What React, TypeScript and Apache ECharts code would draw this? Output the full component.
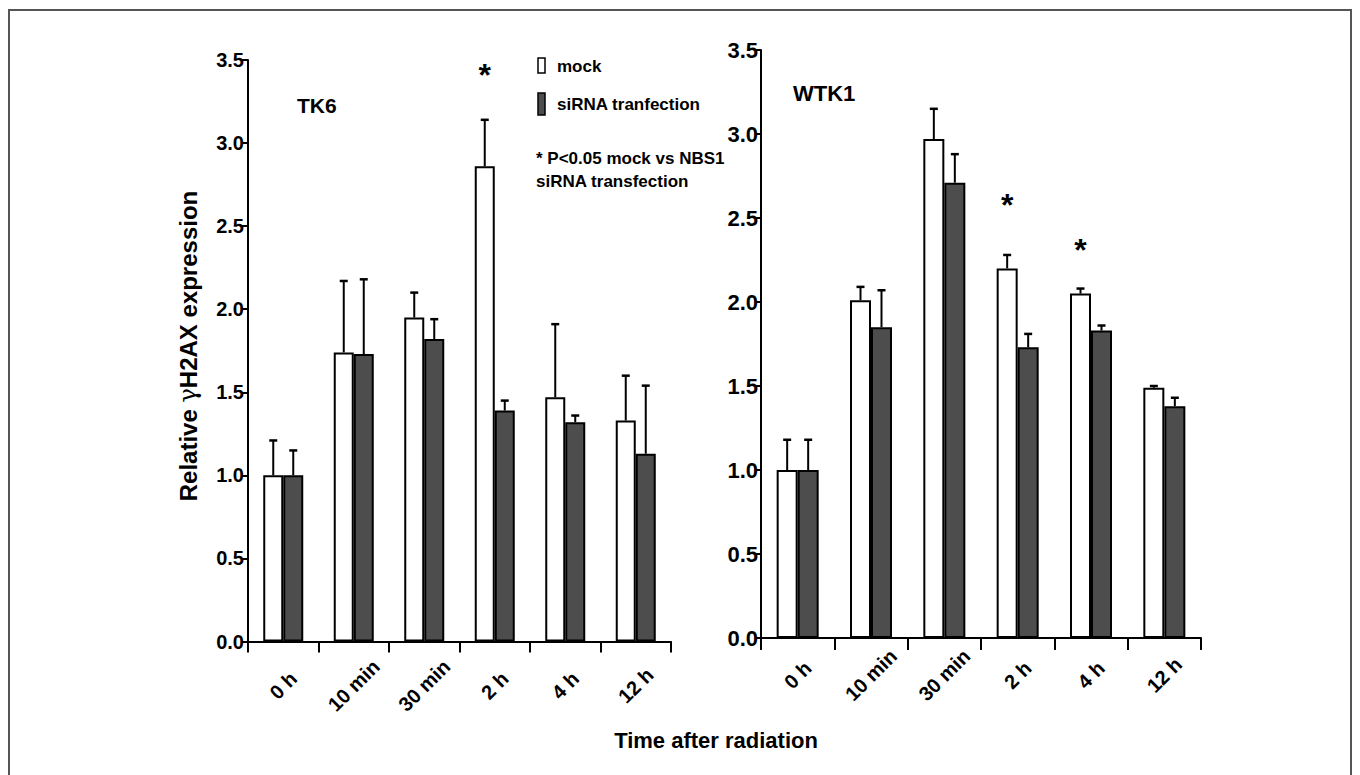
import React, { useEffect, useRef } from "react";
import * as echarts from "echarts";

const categories = ["0 h", "10 min", "30 min", "2 h", "4 h", "12 h"];

const tk6Mock = [1.0, 1.74, 1.95, 2.86, 1.47, 1.33];
const tk6MockErr = [1.21, 2.17, 2.1, 3.14, 1.91, 1.6];
const tk6Si = [1.0, 1.73, 1.82, 1.39, 1.32, 1.13];
const tk6SiErr = [1.15, 2.18, 1.94, 1.45, 1.36, 1.54];

const wtk1Mock = [1.0, 2.01, 2.97, 2.2, 2.05, 1.49];
const wtk1MockErr = [1.18, 2.09, 3.15, 2.28, 2.08, 1.5];
const wtk1Si = [1.0, 1.85, 2.71, 1.73, 1.83, 1.38];
const wtk1SiErr = [1.18, 2.07, 2.88, 1.81, 1.86, 1.43];

const tk6Stars: [string, number][] = [["2 h", 3.41]];
const wtk1Stars: [string, number][] = [["2 h", 2.575], ["4 h", 2.307]];

const FONT = "'Liberation Sans', Arial, Helvetica, sans-serif";
const DARK = "#4d4d4d";

function yAxisCfg(gridIndex: number, fontSize: number, margin: number) {
  return {
    type: "value",
    gridIndex,
    min: 0,
    max: 3.5,
    interval: 0.5,
    axisLine: { show: true, lineStyle: { color: "#000", width: 2 } },
    axisTick: { show: true, length: 6, lineStyle: { color: "#000", width: 2 } },
    axisLabel: {
      formatter: (v: number) => v.toFixed(1),
      fontSize,
      fontWeight: "bold",
      fontFamily: FONT,
      color: "#000",
      margin,
    },
    splitLine: { show: false },
  };
}

function xAxisCfg(gridIndex: number, margin: number, tickLen: number) {
  return {
    type: "category",
    gridIndex,
    data: categories,
    axisLine: { show: true, lineStyle: { color: "#000", width: 2 } },
    axisTick: { show: true, length: tickLen, lineStyle: { color: "#000", width: 2 } },
    axisLabel: {
      rotate: 45,
      align: "center",
      verticalAlign: "middle",
      margin,
      fontSize: 20,
      fontWeight: "bold",
      fontFamily: FONT,
      color: "#000",
      interval: 0,
    },
    splitLine: { show: false },
  };
}

function barSeries(vals: number[], color: string, idx: number, barWidth: number) {
  return {
    type: "bar",
    xAxisIndex: idx,
    yAxisIndex: idx,
    data: vals,
    barWidth,
    barGap: "0%",
    itemStyle: { color, borderColor: "#000", borderWidth: 2 },
    z: 2,
  };
}

function errSeries(vals: number[], errs: number[], offset: number, idx: number) {
  return {
    type: "custom",
    xAxisIndex: idx,
    yAxisIndex: idx,
    z: 3,
    silent: true,
    data: vals.map((v, i) => [i, v, errs[i]]),
    encode: { x: 0, y: [1, 2] },
    renderItem: (params: any, api: any) => {
      const i = api.value(0);
      const p0 = api.coord([i, api.value(1)]);
      const p1 = api.coord([i, api.value(2)]);
      const x = p0[0] + offset;
      return {
        type: "group",
        children: [
          {
            type: "line",
            shape: { x1: x, y1: p0[1], x2: x, y2: p1[1] },
            style: { stroke: "#000", lineWidth: 2 },
          },
          {
            type: "line",
            shape: { x1: x - 4, y1: p1[1], x2: x + 4, y2: p1[1] },
            style: { stroke: "#000", lineWidth: 2.5 },
          },
        ],
      };
    },
  };
}

function starSeries(stars: [string, number][], idx: number, offset: number) {
  return {
    type: "scatter",
    xAxisIndex: idx,
    yAxisIndex: idx,
    data: stars,
    symbolSize: 1,
    itemStyle: { color: "transparent", opacity: 1 },
    silent: true,
    z: 4,
    label: {
      show: true,
      formatter: "*",
      position: "inside",
      offset: [offset, 0],
      fontSize: 32,
      fontWeight: "bold",
      fontFamily: FONT,
      color: "#000",
      opacity: 1,
      textBorderWidth: 0,
    },
  };
}

export default function App() {
  const ref = useRef<HTMLDivElement>(null);
  useEffect(() => {
    if (!ref.current) return;
    const chart = echarts.init(ref.current, undefined, { renderer: "svg" });
    const bwL = 20;
    const bwR = 21;
    const txt = (x: number, y: number, text: string, size: number, extra: any = {}) => ({
      type: "text",
      x,
      y,
      style: {
        text,
        fontSize: size,
        fontWeight: "bold",
        fontFamily: FONT,
        fill: "#000",
        align: "left",
        verticalAlign: "middle",
        ...extra,
      },
      z: 10,
    });
    chart.setOption({
      animation: false,
      backgroundColor: "#fff",
      grid: [
        { left: 248, top: 60, width: 423, height: 581.5 },
        { left: 761, top: 50, width: 440, height: 588 },
      ],
      xAxis: [xAxisCfg(0, 44, 11), xAxisCfg(1, 37, 12)],
      yAxis: [yAxisCfg(0, 20, 4), yAxisCfg(1, 22, 3)],
      series: [
        barSeries(tk6Mock, "#fff", 0, bwL),
        barSeries(tk6Si, DARK, 0, bwL),
        errSeries(tk6Mock, tk6MockErr, -bwL / 2, 0),
        errSeries(tk6Si, tk6SiErr, bwL / 2, 0),
        starSeries(tk6Stars, 0, -bwL / 2),
        barSeries(wtk1Mock, "#fff", 1, bwR),
        barSeries(wtk1Si, DARK, 1, bwR),
        errSeries(wtk1Mock, wtk1MockErr, -bwR / 2, 1),
        errSeries(wtk1Si, wtk1SiErr, bwR / 2, 1),
        starSeries(wtk1Stars, 1, -bwR / 2),
      ],
      graphic: [
        {
          type: "polyline",
          shape: { points: [[9, 800], [9, 10], [1351, 10], [1351, 800]] },
          style: { stroke: "#555", lineWidth: 2, fill: null },
          silent: true,
        },
        txt(297, 105, "TK6", 21),
        txt(793, 93, "WTK1", 22),
        {
          type: "rect",
          shape: { x: 538, y: 58, width: 7, height: 15 },
          style: { fill: "#fff", stroke: "#000", lineWidth: 1.5 },
        },
        {
          type: "rect",
          shape: { x: 538, y: 93, width: 7, height: 22 },
          style: { fill: DARK, stroke: "#000", lineWidth: 1.5 },
        },
        txt(557, 66, "mock", 17),
        txt(557, 104, "siRNA tranfection", 17),
        txt(536, 158, "* P<0.05 mock vs NBS1", 17),
        txt(536, 181, "siRNA transfection", 17),
        txt(716, 740, "Time after radiation", 22, { align: "center" }),
        {
          type: "text",
          x: 188,
          y: 346,
          rotation: Math.PI / 2,
          style: {
            text: "Relative {g|γ}H2AX expression",
            fontSize: 24,
            fontWeight: "bold",
            fontFamily: FONT,
            fill: "#000",
            align: "center",
            verticalAlign: "middle",
            rich: {
              g: {
                fontSize: 24,
                fontWeight: "normal",
                fontFamily: "'DejaVu Serif', serif",
                fill: "#000",
              },
            },
          },
          z: 10,
        },
      ],
    });
    return () => chart.dispose();
  }, []);
  return (
    <div
      ref={ref}
      style={{ position: "fixed", left: 0, top: 0, width: 1360, height: 775 }}
    />
  );
}
